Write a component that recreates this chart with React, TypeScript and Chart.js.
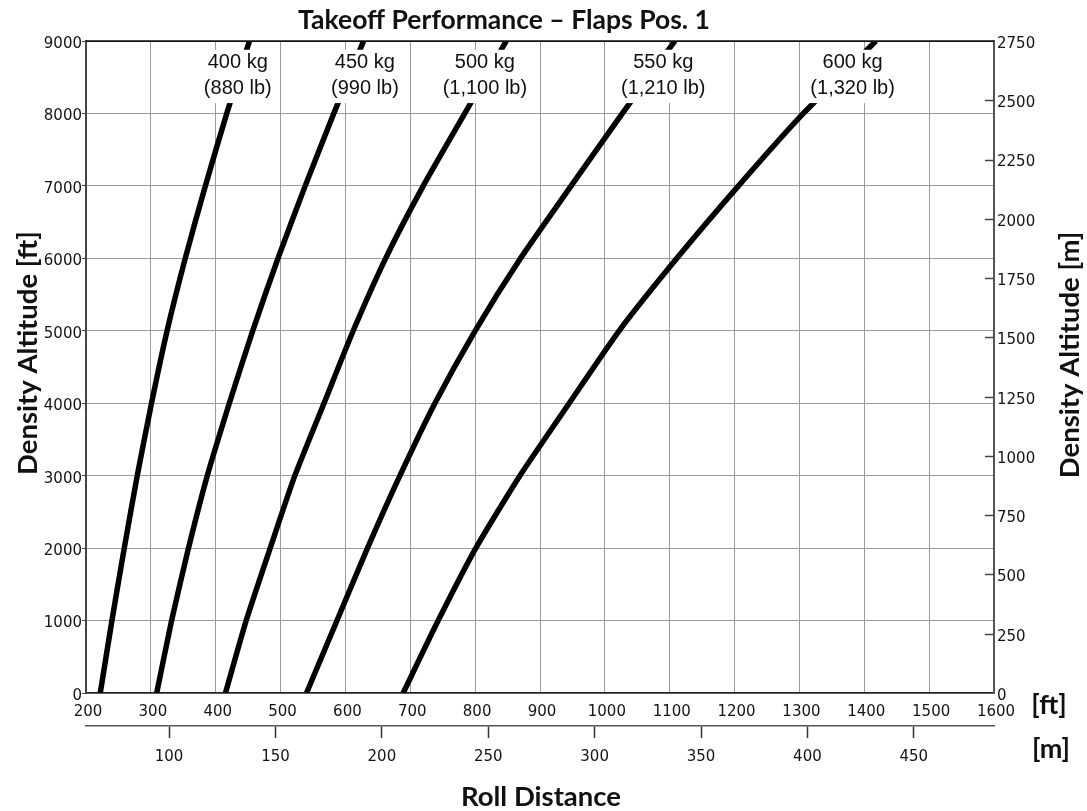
import React, { useEffect, useRef } from 'react';
import { Chart, registerables } from 'chart.js';

Chart.register(...registerables);

// Density altitude rows (ft) shared by every weight curve
const altitudesFt = [0, 1000, 2000, 3000, 4000, 5000, 6000, 7000, 8000, 9000];

// Ground roll distance (ft) for each take-off weight
const roll400kg = [222, 240, 259, 279, 301, 325, 353, 384, 417, 452];
const roll450kg = [309, 332, 358, 387, 421, 457, 496, 538, 582, 628];
const roll500kg = [415, 447, 484, 522, 567, 612, 662, 720, 784, 848];
const roll550kg = [540, 587, 634, 684, 738, 800, 870, 948, 1027, 1108];
const roll600kg = [689, 743, 801, 869, 945, 1022, 1111, 1206, 1306, 1418];

const weightKgLabels = ['400 kg', '450 kg', '500 kg', '550 kg', '600 kg'];
const weightLbLabels = ['(880 lb)', '(990 lb)', '(1,100 lb)', '(1,210 lb)', '(1,320 lb)'];
// Roll distance (ft) at which each weight caption is centred
const captionRollFt = [434, 630, 815, 1090, 1382];

// Axis ranges and tick labels
const rollTicksFt = [200, 300, 400, 500, 600, 700, 800, 900, 1000, 1100, 1200, 1300, 1400, 1500, 1600];
const rollTicksM = [100, 150, 200, 250, 300, 350, 400, 450];
const altTicksFt = [0, 1000, 2000, 3000, 4000, 5000, 6000, 7000, 8000, 9000];
const altTicksM = [0, 250, 500, 750, 1000, 1250, 1500, 1750, 2000, 2250, 2500, 2750];

const FT_TO_M = 0.3048;

const allRolls = [roll400kg, roll450kg, roll500kg, roll550kg, roll600kg];

const TICK_FONT = { family: '"DejaVu Sans", Verdana, sans-serif', size: 15 };
const TICK_COLOR = '#141414';
const GRID_COLOR = '#9b9b9b';
const HEAVY_FONT = '"Lato", "Open Sans", sans-serif';
const plainNumber = (v: any) => String(v);

// Caption rows (density altitude, ft) for the weight captions
const CAPTION_ALT_TOP = 8700;
const CAPTION_ALT_BOTTOM = 8350;

const captionsPlugin = {
  id: 'weightCaptions',
  afterDatasetsDraw(chart: any) {
    const { ctx, scales } = chart;
    const xs = scales.x;
    const ys = scales.y;
    ctx.save();
    ctx.font = '20px "Liberation Sans", Arial, sans-serif';
    ctx.textAlign = 'center';
    ctx.textBaseline = 'middle';
    const y1 = ys.getPixelForValue(CAPTION_ALT_TOP);
    const y2 = ys.getPixelForValue(CAPTION_ALT_BOTTOM);
    weightKgLabels.forEach((kg, i) => {
      const cx = xs.getPixelForValue(captionRollFt[i]);
      const lb = weightLbLabels[i];
      const w = Math.max(ctx.measureText(kg).width, ctx.measureText(lb).width) + 10;
      ctx.fillStyle = '#ffffff';
      ctx.fillRect(cx - w / 2, y1 - 13, w, y2 - y1 + 28);
      ctx.fillStyle = '#111111';
      ctx.fillText(kg, cx, y1);
      ctx.fillText(lb, cx, y2);
    });
    ctx.restore();
  },
};

const framePlugin = {
  id: 'frameAndTitles',
  afterDraw(chart: any) {
    const { ctx, chartArea, scales } = chart;
    const { left, right, top, bottom } = chartArea;
    ctx.save();

    // top edge of the plot frame
    ctx.strokeStyle = '#111';
    ctx.lineWidth = 1.5;
    ctx.beginPath();
    ctx.moveTo(left, top);
    ctx.lineTo(right, top);
    ctx.stroke();

    // inward tick marks of the metric altitude axis
    const y2 = scales.y2;
    ctx.strokeStyle = '#444';
    ctx.lineWidth = 1.5;
    y2.ticks.forEach((t: any) => {
      const py = Math.round(y2.getPixelForValue(t.value)) + 0.5;
      if (t.value === 0 || t.value === 2750) return;
      ctx.beginPath();
      ctx.moveTo(right - 9, py);
      ctx.lineTo(right, py);
      ctx.stroke();
    });

    ctx.fillStyle = '#111';
    ctx.textAlign = 'center';
    ctx.textBaseline = 'middle';

    // chart title
    ctx.font = `bold 26.5px ${HEAVY_FONT}`;
    ctx.fillText('Takeoff Performance – Flaps Pos. 1', 504, 20);

    // axis titles
    ctx.font = `bold 27.5px ${HEAVY_FONT}`;
    ctx.fillText('Roll Distance', 541, 797);

    ctx.save();
    ctx.translate(28, (top + bottom) / 2 - 14);
    ctx.rotate(-Math.PI / 2);
    ctx.fillText('Density Altitude [ft]', 0, 0);
    ctx.restore();

    ctx.save();
    ctx.translate(1070, (top + bottom) / 2 - 12);
    ctx.rotate(-Math.PI / 2);
    ctx.fillText('Density Altitude [m]', 0, 0);
    ctx.restore();

    // unit captions for the two roll-distance scales
    ctx.font = `bold 27px ${HEAVY_FONT}`;
    ctx.fillText('[ft]', 1049, 705);
    ctx.fillText('[m]', 1051, 749);

    ctx.restore();
  },
};

export default function App() {
  const canvasRef = useRef<HTMLCanvasElement | null>(null);

  useEffect(() => {
    document.body.style.margin = '0';
    const canvas = canvasRef.current;
    if (!canvas) return;

    const datasets = allRolls.map((rolls, i) => ({
      label: weightKgLabels[i],
      data: rolls.map((r, j) => ({ x: r, y: altitudesFt[j] })),
      showLine: true,
      borderColor: '#000000',
      backgroundColor: '#000000',
      borderWidth: 5.5,
      pointRadius: 0,
      tension: 0.2,
      clip: 0,
    }));

    const chart = new Chart(canvas, {
      type: 'scatter',
      data: { datasets },
      options: {
        animation: false,
        responsive: false,
        maintainAspectRatio: false,
        layout: { padding: { top: 41, left: 0, right: 0, bottom: 0 } },
        plugins: {
          legend: { display: false },
          tooltip: { enabled: false },
          title: { display: false },
        },
        scales: {
          x: {
            type: 'linear',
            position: 'bottom',
            weight: 0,
            min: rollTicksFt[0],
            max: rollTicksFt[rollTicksFt.length - 1],
            afterBuildTicks: (s: any) => {
              s.ticks = rollTicksFt.map((v) => ({ value: v }));
            },
            afterFit: (s: any) => {
              s.height = 33;
            },
            ticks: {
              font: TICK_FONT,
              color: TICK_COLOR,
              padding: 10,
              labelOffset: 2,
              maxRotation: 0,
              autoSkip: false,
              callback: plainNumber,
            },
            grid: { color: GRID_COLOR, lineWidth: 1, drawTicks: false },
            border: { display: true, color: '#222', width: 1.5 },
          },
          xm: {
            type: 'linear',
            position: 'bottom',
            weight: 1,
            min: rollTicksFt[0] * FT_TO_M,
            max: rollTicksFt[rollTicksFt.length - 1] * FT_TO_M,
            afterBuildTicks: (s: any) => {
              s.ticks = rollTicksM.map((v) => ({ value: v }));
            },
            afterFit: (s: any) => {
              s.height = 85;
            },
            ticks: {
              font: TICK_FONT,
              color: TICK_COLOR,
              padding: 10,
              maxRotation: 0,
              autoSkip: false,
              callback: plainNumber,
            },
            grid: {
              display: true,
              drawOnChartArea: false,
              drawTicks: true,
              tickLength: 12,
              tickColor: '#333',
              tickWidth: 1.5,
            },
            border: { display: true, color: '#555', width: 1.5 },
          },
          y: {
            type: 'linear',
            position: 'left',
            min: altTicksFt[0],
            max: altTicksFt[altTicksFt.length - 1],
            afterBuildTicks: (s: any) => {
              s.ticks = altTicksFt.map((v) => ({ value: v }));
            },
            afterFit: (s: any) => {
              s.width = 86;
            },
            ticks: {
              font: TICK_FONT,
              color: TICK_COLOR,
              padding: 0,
              labelOffset: 3,
              autoSkip: false,
              callback: plainNumber,
            },
            grid: {
              color: (c: any) => (c.tick && c.tick.value === 9000 ? '#111' : GRID_COLOR),
              lineWidth: 1,
              drawTicks: true,
              tickLength: 4,
              tickColor: '#444',
            },
            border: { display: true, color: '#444', width: 2 },
          },
          y2: {
            type: 'linear',
            position: 'right',
            min: altTicksM[0],
            max: altTicksM[altTicksM.length - 1],
            afterBuildTicks: (s: any) => {
              s.ticks = altTicksM.map((v) => ({ value: v }));
            },
            afterFit: (s: any) => {
              s.width = 93;
            },
            ticks: {
              font: TICK_FONT,
              color: TICK_COLOR,
              padding: 3,
              labelOffset: 3,
              autoSkip: false,
              callback: plainNumber,
            },
            grid: { display: false, drawTicks: false, drawOnChartArea: false },
            border: { display: true, color: '#555', width: 2 },
          },
        },
      },
      plugins: [captionsPlugin, framePlugin],
    } as any);

    return () => {
      chart.destroy();
    };
  }, []);

  return (
    <div style={{ width: 1087, height: 811, background: '#ffffff' }}>
      <canvas ref={canvasRef} width={1087} height={811} style={{ display: 'block' }} />
    </div>
  );
}
